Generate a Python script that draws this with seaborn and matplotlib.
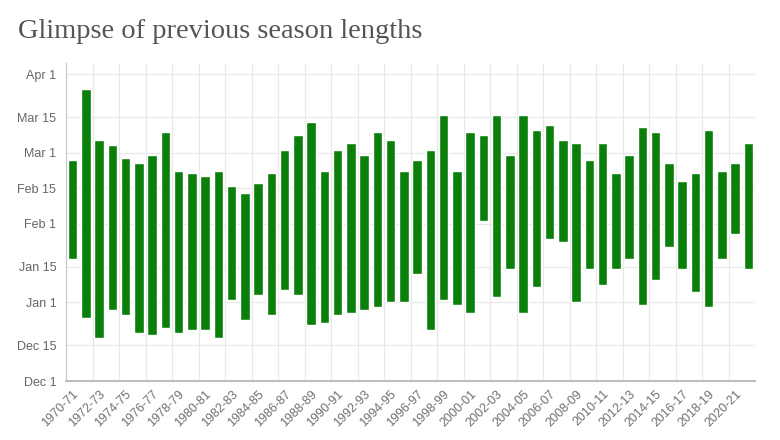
import numpy as np
import pandas as pd
import matplotlib
matplotlib.use("Agg")
import matplotlib.pyplot as plt
import seaborn as sns

seasons = [f"{y}-{str(y + 1)[-2:]}" for y in range(1970, 2022)]

season_start = [
    "Jan 18", "Dec 26", "Dec 18", "Dec 29", "Dec 27", "Dec 20", "Dec 19", "Dec 22",
    "Dec 20", "Dec 21", "Dec 21", "Dec 18", "Jan 2", "Dec 25", "Jan 4", "Dec 27",
    "Jan 6", "Jan 4", "Dec 23", "Dec 24", "Dec 27", "Dec 28", "Dec 29", "Dec 30",
    "Jan 1", "Jan 1", "Jan 12", "Dec 21", "Jan 2", "Dec 31", "Dec 28", "Feb 2",
    "Jan 3", "Jan 14", "Dec 28", "Jan 7", "Jan 26", "Jan 25", "Jan 1", "Jan 14",
    "Jan 8", "Jan 14", "Jan 18", "Dec 31", "Jan 10", "Jan 23", "Jan 14", "Jan 5",
    "Dec 30", "Jan 18", "Jan 28", "Jan 14",
]
season_end = [
    "Feb 26", "Mar 26", "Mar 6", "Mar 4", "Feb 27", "Feb 25", "Feb 28", "Mar 9",
    "Feb 22", "Feb 21", "Feb 20", "Feb 22", "Feb 16", "Feb 13", "Feb 17", "Feb 21",
    "Mar 2", "Mar 8", "Mar 13", "Feb 22", "Mar 2", "Mar 5", "Feb 28", "Mar 9",
    "Mar 6", "Feb 22", "Feb 26", "Mar 2", "Mar 16", "Feb 22", "Mar 9", "Mar 8",
    "Mar 16", "Feb 28", "Mar 16", "Mar 10", "Mar 12", "Mar 6", "Mar 5", "Feb 26",
    "Mar 5", "Feb 21", "Feb 28", "Mar 11", "Mar 9", "Feb 25", "Feb 18", "Feb 21",
    "Mar 10", "Feb 22", "Feb 25", "Mar 5",
]
y_tick_labels = ["Dec 1", "Dec 15", "Jan 1", "Jan 15", "Feb 1", "Feb 15", "Mar 1", "Mar 15", "Apr 1"]


def day_offset(s):
    yr = 2000 if s.startswith("Dec") else 2001
    return (pd.to_datetime(f"{s} {yr}", format="%b %d %Y") - pd.Timestamp("2000-12-01")).days


start_days = np.array([day_offset(s) for s in season_start])
end_days = np.array([day_offset(s) for s in season_end])
ytick_days = [day_offset(s) for s in y_tick_labels]

df = pd.DataFrame({"season": seasons, "length": end_days - start_days})

sns.set_style("white")
plt.rcParams["font.family"] = ["Liberation Sans", "DejaVu Sans"]

fig = plt.figure(figsize=(7.8, 4.4), dpi=100)
ax = fig.add_axes([66 / 780, 1 - 381 / 440, (755 - 66) / 780, (381 - 63) / 440])

sns.barplot(data=df, x="season", y="length", bottom=start_days, color="#0a7f0a",
            saturation=1, width=0.7, errorbar=None, ax=ax, zorder=3)

ax.set_xlim(-0.5, len(seasons) - 0.5)
ax.set_ylim(0, 125.4)

grid_col = "#e8e8e8"
# y axis
ax.set_yticks(ytick_days)
ax.set_yticklabels(y_tick_labels)
ax.yaxis.grid(True, color=grid_col, linewidth=0.9, zorder=0)
ax.tick_params(axis="y", length=5, color=grid_col, labelsize=9, labelcolor="#666666", pad=2)

# x axis: labels at every other category centre, grid at category edges
idx = np.arange(0, len(seasons), 2)
ax.set_xticks(idx)
ax.set_xticklabels([seasons[i] for i in idx], rotation=45, ha="right", rotation_mode="anchor")
ax.tick_params(axis="x", length=0, labelsize=9, labelcolor="#707070", pad=5)
ax.set_xticks(idx - 0.5, minor=True)
ax.xaxis.grid(True, which="minor", color=grid_col, linewidth=0.9, zorder=0)
ax.tick_params(axis="x", which="minor", length=5, color=grid_col)
ax.set_axisbelow(True)

for side in ["top", "right"]:
    ax.spines[side].set_visible(False)
ax.spines["left"].set_color("#c8c8c8")
ax.spines["bottom"].set_color("#bdbdbd")
ax.spines["bottom"].set_linewidth(1.5)
ax.set_xlabel("")
ax.set_ylabel("")

fig.text(18 / 780, 1 - 38 / 440, "Glimpse of previous season lengths",
         fontsize=20.5, color="#555555", family=["Liberation Serif", "DejaVu Serif"])

fig.savefig("out.png", dpi=100, facecolor="white")
